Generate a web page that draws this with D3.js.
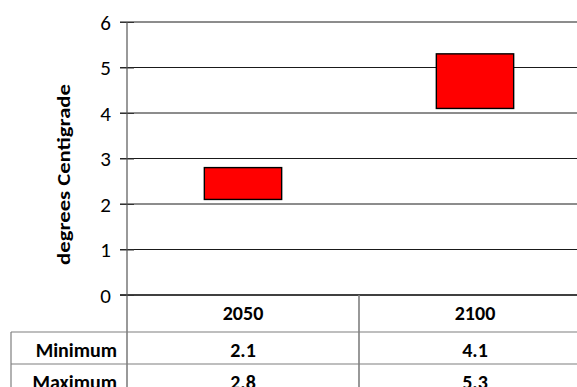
<!DOCTYPE html>
<html>
<head>
<meta charset="utf-8">
<script src="https://cdn.jsdelivr.net/npm/d3@7"></script>
<style>
  html, body { margin: 0; padding: 0; background: #fff; }
  svg { display: block; font-family: Carlito, Calibri, Lato, "Liberation Sans", sans-serif; }
</style>
</head>
<body>
<svg id="chart" width="577" height="387"></svg>
<script>
const categories = ["2050", "2100"];
const minimumValues = [2.1, 4.1];
const maximumValues = [2.8, 5.3];
const yTicks = [0, 1, 2, 3, 4, 5, 6];
const rowLabels = ["Minimum", "Maximum"];
const yTitle = "degrees Centigrade";

const svg = d3.select("#chart");
const W = 577, H = 387;
const FONT = "Carlito, Calibri, Lato, sans-serif";

const y = d3.scaleLinear().domain([0, 6]).range([295, 22]);
const x = d3.scaleBand().domain(categories).range([127, 591]).paddingInner(0).paddingOuter(0);

// gridlines
svg.append("g").selectAll("line").data(yTicks).join("line")
  .attr("x1", 120).attr("x2", W)
  .attr("y1", d => y(d)).attr("y2", d => y(d))
  .attr("stroke", d => d === 0 ? "#000" : "#1a1a1a")
  .attr("stroke-width", d => d === 0 ? 1.6 : 1);

// y axis via d3 axis (labels)
const yAxis = d3.axisLeft(y).tickValues(yTicks).tickSize(0).tickPadding(16).tickFormat(d3.format("d"));
const gy = svg.append("g").attr("transform", "translate(127,0)").call(yAxis);
gy.select(".domain").remove();
gy.attr("font-family", null).attr("font-size", null);
gy.selectAll("text")
  .style("font-size", "21px").style("font-family", FONT)
  .attr("fill", "#000").attr("dy", "0.34em");
gy.selectAll(".tick").append("line").attr("x1", -7).attr("x2", 7).attr("stroke", "#333").attr("stroke-width", 1);

// vertical axis line
svg.append("line").attr("x1", 127).attr("x2", 127).attr("y1", y(6)).attr("y2", H)
  .attr("stroke", "#555").attr("stroke-width", 1.2);

// axis title
const title = svg.append("text")
  .attr("text-anchor", "middle")
  .attr("font-weight", "bold").attr("font-size", 17)
  .text(yTitle);
const tlen = title.node().getComputedTextLength();
const sx = 181 / tlen;
title.attr("transform", `translate(70,${(y(0)+y(6))/2 + 16}) rotate(-90) scale(${sx},1)`);

// floating boxes
const boxes = categories.map((c, i) => ({c, lo: minimumValues[i], hi: maximumValues[i]}));
svg.append("g").selectAll("rect").data(boxes).join("rect")
  .attr("x", d => x(d.c) + x.bandwidth() / 3)
  .attr("width", x.bandwidth() / 3)
  .attr("y", d => y(d.hi))
  .attr("height", d => y(d.lo) - y(d.hi))
  .attr("fill", "#ff0000")
  .attr("stroke", "#000").attr("stroke-width", 1.4);

// data table
const tbl = svg.append("g");
tbl.selectAll("line.h").data([332, 364]).join("line").attr("class", "h")
  .attr("x1", 11).attr("x2", W).attr("y1", d => d).attr("y2", d => d)
  .attr("stroke", "#7f7f7f").attr("stroke-width", 1.2);
tbl.append("line").attr("x1", 11).attr("x2", 11).attr("y1", 332).attr("y2", H)
  .attr("stroke", "#7f7f7f").attr("stroke-width", 1.2);
tbl.selectAll("line.v").data(categories.slice(1)).join("line").attr("class", "v")
  .attr("x1", d => x(d)).attr("x2", d => x(d)).attr("y1", 295).attr("y2", H)
  .attr("stroke", "#7f7f7f").attr("stroke-width", 1.6);

tbl.selectAll("text.hd").data(categories).join("text").attr("class", "hd")
  .attr("x", d => x(d) + x.bandwidth() / 2).attr("y", 320)
  .attr("text-anchor", "middle").attr("font-weight", "bold").attr("font-size", 20)
  .text(d => d);

const rows = [minimumValues, maximumValues];
const baselines = [357, 389];
rows.forEach((vals, r) => {
  tbl.append("text").attr("x", 117).attr("y", baselines[r])
    .attr("text-anchor", "end").attr("font-weight", "bold").attr("font-size", 20)
    .text(rowLabels[r]);
  tbl.selectAll(null).data(vals).join("text")
    .attr("x", (d, i) => x(categories[i]) + x.bandwidth() / 2).attr("y", baselines[r])
    .attr("text-anchor", "middle").attr("font-weight", "bold").attr("font-size", 20)
    .text(d => d3.format(".1f")(d));
});
</script>
</body>
</html>
